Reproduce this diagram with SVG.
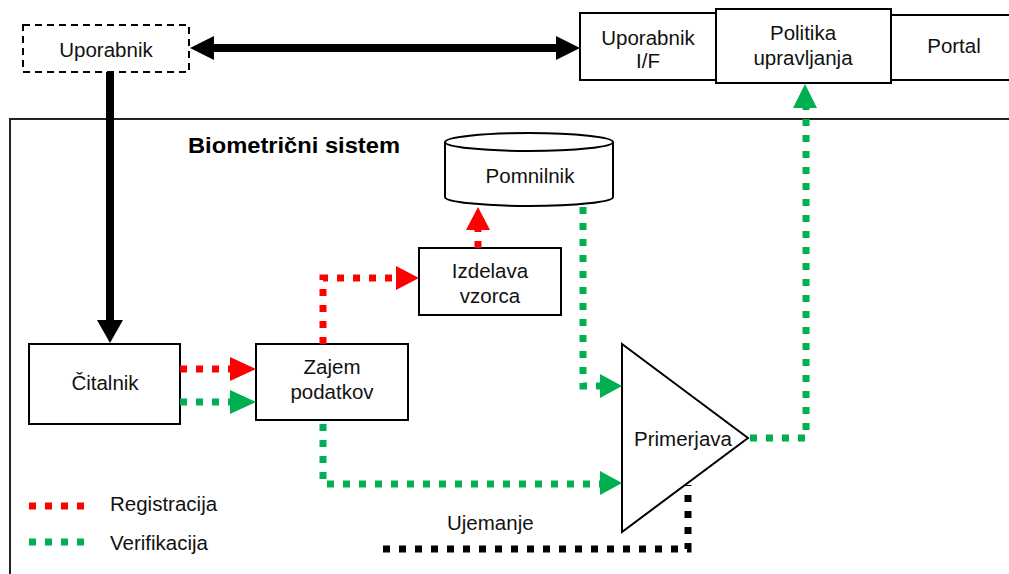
<svg xmlns="http://www.w3.org/2000/svg" width="1009" height="574" viewBox="0 0 1009 574">
  <style>
    .box { fill: #fff; stroke: #000; stroke-width: 2; }
    .lbl { font-family: "Liberation Sans", Arial, sans-serif; font-size: 20.5px; fill: #111; text-anchor: middle; }
    .lft { text-anchor: start; }
    .ttl { font-family: "Liberation Sans", Arial, sans-serif; font-size: 22px; font-weight: bold; fill: #000; }
    .dot { fill: none; stroke-width: 7; stroke-dasharray: 7 9; }
    .red { stroke: #ff0000; }
    .grn { stroke: #00b050; }
    .blk { stroke: #000; }
    .thick { fill: none; stroke: #000; stroke-width: 8; }
  </style>

  <!-- system boundary -->
  <g id="system">
    <rect x="10" y="119" width="1010" height="470" fill="none" stroke="#222" stroke-width="2"/>
    <text class="ttl" x="188" y="153" textLength="212" lengthAdjust="spacingAndGlyphs">Biometrični sistem</text>
  </g>

  <g id="uporabnik">
    <rect x="23" y="25" width="166" height="47" fill="#fff" stroke="#000" stroke-width="2" stroke-dasharray="7 5"/>
    <text class="lbl" x="106" y="57">Uporabnik</text>
  </g>

  <g id="uporabnik-if">
    <rect class="box" x="580" y="13" width="136" height="67"/>
    <text class="lbl" x="648" y="45">Uporabnik</text>
    <text class="lbl" x="648" y="68">I/F</text>
  </g>

  <g id="portal">
    <rect class="box" x="891" y="15" width="130" height="65"/>
    <text class="lbl" x="954" y="53">Portal</text>
  </g>

  <g id="politika">
    <rect class="box" x="716" y="9" width="175" height="74"/>
    <text class="lbl" x="803" y="40">Politika</text>
    <text class="lbl" x="803" y="65">upravljanja</text>
  </g>

  <g id="pomnilnik">
    <path class="box" d="M445,142 L445,197 A84,9 0 0 0 613,197 L613,142"/>
    <ellipse class="box" cx="529" cy="142" rx="84" ry="9"/>
    <text class="lbl" x="530" y="183">Pomnilnik</text>
  </g>

  <g id="izdelava">
    <rect class="box" x="419" y="248" width="142" height="67"/>
    <text class="lbl" x="490" y="278">Izdelava</text>
    <text class="lbl" x="490" y="303">vzorca</text>
  </g>

  <g id="citalnik">
    <rect class="box" x="29" y="344" width="151" height="80"/>
    <text class="lbl" x="105" y="390">Čitalnik</text>
  </g>

  <g id="zajem">
    <rect class="box" x="256" y="344" width="152" height="76"/>
    <text class="lbl" x="332" y="374">Zajem</text>
    <text class="lbl" x="332" y="399">podatkov</text>
  </g>

  <g id="primerjava">
    <polygon points="622,344 748,438 622,532" fill="#fff" stroke="#000" stroke-width="2"/>
    <text class="lbl" x="683" y="446">Primerjava</text>
  </g>

  <!-- connectors -->
  <g id="connectors">
    <!-- user <-> user interface -->
    <line class="thick" x1="212" y1="48" x2="558" y2="48"/>
    <polygon points="190,48 214,36 214,60" fill="#000"/>
    <polygon points="580,48 556,36 556,60" fill="#000"/>
    <!-- user -> reader -->
    <line class="thick" x1="110" y1="72" x2="110" y2="322"/>
    <polygon points="97,320 110,343 123,320" fill="#000"/>

    <!-- enrolment path -->
    <line class="dot red" x1="180" y1="369" x2="230" y2="369"/>
    <polygon points="230,357 256,369 230,381" fill="#ff0000"/>
    <polyline class="dot red" points="323,344 323,278 396,278"/>
    <polygon points="396,266 419,278 396,290" fill="#ff0000"/>
    <line class="dot red" x1="478" y1="248" x2="478" y2="230"/>
    <polygon points="466,230 478,207 490,230" fill="#ff0000"/>

    <!-- verification path -->
    <line class="dot grn" x1="180" y1="402" x2="230" y2="402"/>
    <polygon points="230,390 256,402 230,414" fill="#00b050"/>
    <polyline class="dot grn" points="583,207 583,386 600,386"/>
    <polygon points="600,374 622,386 600,398" fill="#00b050"/>
    <polyline class="dot grn" points="323,424 323,484 600,484"/>
    <polygon points="600,471 622,483 600,495" fill="#00b050"/>
    <polyline class="dot grn" points="750,438 806,438 806,108"/>
    <polygon points="793,108 805,84 817,108" fill="#00b050"/>

    <!-- match threshold -->
    <polyline class="dot blk" points="383,549 688,549 688,485"/>
  </g>

  <!-- legend -->
  <g id="legend">
    <line class="dot red" x1="29" y1="506" x2="86" y2="506"/>
    <text class="lbl lft" x="110" y="511">Registracija</text>
    <line class="dot grn" x1="29" y1="542" x2="86" y2="542"/>
    <text class="lbl lft" x="110" y="550">Verifikacija</text>
  </g>

  <text class="lbl lft" x="447" y="530">Ujemanje</text>
</svg>
